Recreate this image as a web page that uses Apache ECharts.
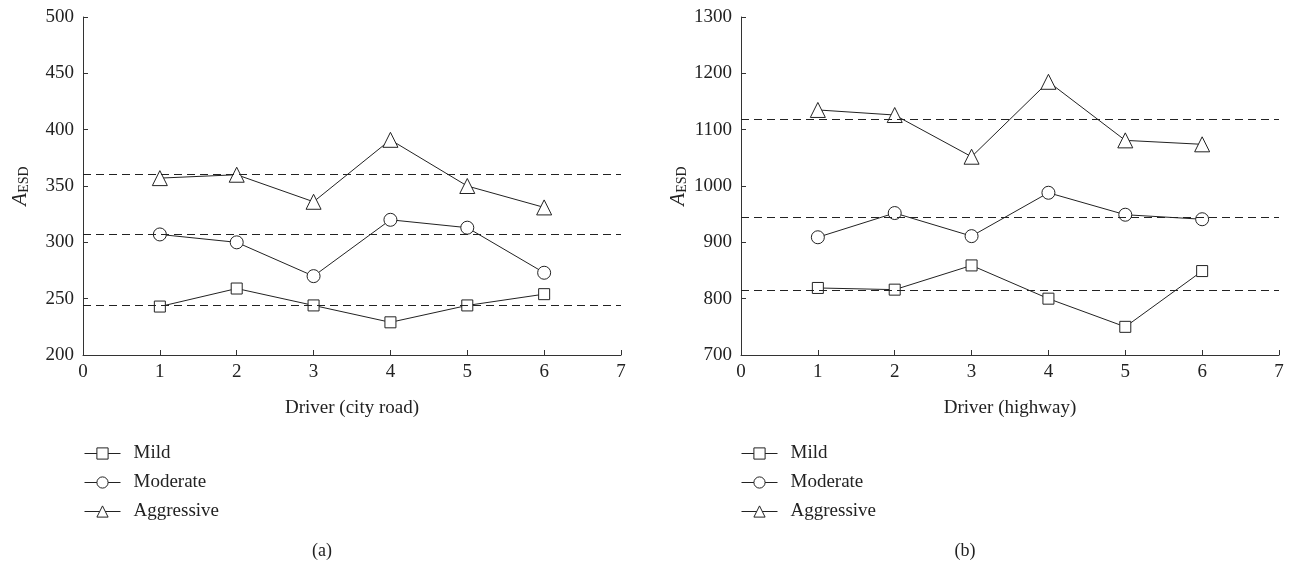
<!DOCTYPE html>
<html>
<head>
<meta charset="utf-8">
<title>A_ESD by driver</title>
<script src="https://cdn.jsdelivr.net/npm/echarts@6/dist/echarts.min.js"></script>
<style>
  html, body { margin: 0; padding: 0; background: #fff; }
  #chart { width: 1296px; height: 565px; }
</style>
</head>
<body>
<div id="chart"></div>
<script>
// Driver index on the x axis
const drivers = [1, 2, 3, 4, 5, 6];
const styles = ['Mild', 'Moderate', 'Aggressive'];
const symbols = ['rect', 'circle', 'triangle'];

// (a) city road
const cityMild = [243, 259, 244, 229, 244, 254];
const cityModerate = [307, 300, 270, 320, 313, 273];
const cityAggressive = [357, 360, 336, 391, 350, 331];
const cityLevels = [244, 307, 360];

// (b) highway
const hwyMild = [819, 816, 859, 800, 750, 849];
const hwyModerate = [909, 952, 911, 988, 949, 941];
const hwyAggressive = [1135, 1126, 1052, 1185, 1081, 1074];
const hwyLevels = [815, 945, 1118];

const cityTicks = { min: 200, max: 500, interval: 50 };
const hwyTicks = { min: 700, max: 1300, interval: 100 };

const FONT = '"Liberation Serif", "DejaVu Serif", serif';
const INK = '#222';
const LABEL_SIZE = 19;

function pairs(values) {
  return values.map((v, i) => [drivers[i], v]);
}

function xAxis(gridIndex, name) {
  return {
    gridIndex, type: 'value', min: 0, max: 7, interval: 1,
    name, nameLocation: 'middle', nameGap: 44,
    nameTextStyle: { fontFamily: FONT, fontSize: LABEL_SIZE, color: INK },
    axisLine: { show: true, lineStyle: { color: '#333', width: 1 } },
    axisTick: { show: true, inside: true, length: 5, lineStyle: { color: '#333' } },
    axisLabel: { fontFamily: FONT, fontSize: LABEL_SIZE, color: INK, margin: 8 },
    splitLine: { show: false }
  };
}

function yAxis(gridIndex, ticks) {
  return {
    gridIndex, type: 'value', min: ticks.min, max: ticks.max, interval: ticks.interval,
    name: '{a|A}{s|ESD}', nameLocation: 'middle', nameGap: 52, nameRotate: 90,
    nameTextStyle: {
      rich: {
        a: { fontFamily: FONT, fontSize: 21, fontStyle: 'italic', color: INK },
        s: { fontFamily: FONT, fontSize: 14, color: INK, padding: [8, 0, 0, 0] }
      }
    },
    axisLine: { show: true, lineStyle: { color: '#333', width: 1 } },
    axisTick: { show: true, inside: true, length: 5, lineStyle: { color: '#333' } },
    axisLabel: {
      fontFamily: FONT, fontSize: LABEL_SIZE, color: INK, margin: 9,
      formatter: (v) => String(v)
    },
    splitLine: { show: false }
  };
}

function lineSeries(name, values, idx, level) {
  return {
    name: styles[idx], type: 'line',
    xAxisIndex: name, yAxisIndex: name,
    data: pairs(values),
    symbol: symbols[idx],
    symbolSize: idx === 0 ? 11 : (idx === 1 ? 13 : 15),
    itemStyle: { color: '#fff', borderColor: INK, borderWidth: 1 },
    lineStyle: { color: INK, width: 1 },
    emphasis: { disabled: true },
    animation: false,
    z: 3,
    markLine: {
      silent: true, symbol: 'none', animation: false,
      label: { show: false },
      lineStyle: { color: INK, width: 1, type: [8, 5] },
      data: [{ yAxis: level }]
    }
  };
}

function legend(left) {
  return {
    left, top: 444, orient: 'vertical', padding: 0,
    itemWidth: 36, itemHeight: 14, itemGap: 10,
    data: styles,
    selectedMode: false,
    lineStyle: { width: 1 },
    itemStyle: { borderWidth: 1 },
    textStyle: { fontFamily: FONT, fontSize: LABEL_SIZE, color: INK, lineHeight: 17, padding: [0, 0, 0, 8] }
  };
}

const chart = echarts.init(document.getElementById('chart'));
chart.setOption({
  backgroundColor: '#fff',
  animation: false,
  grid: [
    { left: 83, top: 17, width: 538, height: 338 },
    { left: 741, top: 17, width: 538, height: 338 }
  ],
  xAxis: [xAxis(0, 'Driver (city road)'), xAxis(1, 'Driver (highway)')],
  yAxis: [yAxis(0, cityTicks), yAxis(1, hwyTicks)],
  legend: [
    Object.assign(legend(84), { id: 'la' }),
    Object.assign(legend(741), { id: 'lb' })
  ],
  title: [
    { text: '(a)', left: 317, top: 537, textAlign: 'center',
      textStyle: { fontFamily: FONT, fontSize: 18, fontWeight: 'normal', color: INK } },
    { text: '(b)', left: 960, top: 537, textAlign: 'center',
      textStyle: { fontFamily: FONT, fontSize: 18, fontWeight: 'normal', color: INK } }
  ],
  series: [
    lineSeries(0, cityMild, 0, cityLevels[0]),
    lineSeries(0, cityModerate, 1, cityLevels[1]),
    lineSeries(0, cityAggressive, 2, cityLevels[2]),
    lineSeries(1, hwyMild, 0, hwyLevels[0]),
    lineSeries(1, hwyModerate, 1, hwyLevels[1]),
    lineSeries(1, hwyAggressive, 2, hwyLevels[2])
  ]
});
</script>
</body>
</html>
